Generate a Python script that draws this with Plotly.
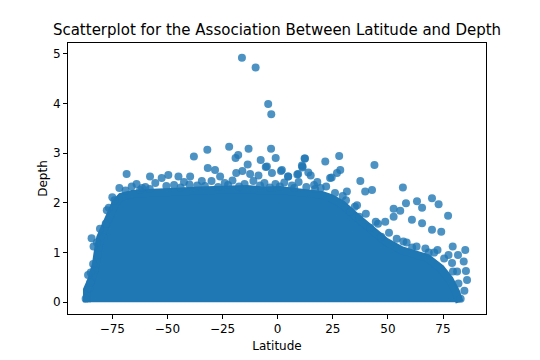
import plotly.graph_objects as go

# Dense core of the cloud: outline (latitude, depth)
blob_lat = [-86.5, -86.5, -84.5, -82.5, -81.5, -80.5, -78, -76, -73.5, -71, -66, -59, -52, -44, -36, -29, -22,
            -14, -7, 1, 8, 14, 20, 24, 29, 33.5, 38, 44, 49, 56, 62, 68, 74, 78, 81, 82.5, 82.5]
blob_depth = [0, 0.25, 0.45, 0.75, 1.05, 1.3, 1.55, 1.75, 2.0, 2.12, 2.18, 2.2, 2.2, 2.23, 2.25, 2.27, 2.25,
              2.28, 2.25, 2.26, 2.22, 2.2, 2.16, 2.1, 1.98, 1.8, 1.63, 1.43, 1.22, 1.05, 0.97, 0.89, 0.68,
              0.46, 0.2, 0.05, 0]

# Individual points visible around / above the dense core
pt_lat = [-16.2, -10.0, -4.3, -2.9, -38.0, -31.9, -22.0, -13.2, -3.0, -19.1, -17.9, -0.9, -7.7, -13.6, -5.4, 12.4,
          -68.5, -31.7, -28.4, 1.5, -2.6, -16.0, -57.9, -49.6, -45.0, -52.6, -39.7, -18.8, -12.5, -8.7, 4.8, 9.3,
          11.2, -75.0, -71.8, -4.9, -26.1, -34.4,
          12.2, 21.6, 27.9, 43.9, 28.4, 26.9, 23.8, 24.5, 37.5, 56.8, 31.4, 39.7, 42.8, 63.2, 70.0, 11.0, 11.3,
          1.9, 4.7, 8.9, 13.9, 15.0,
          58.2, 65.5, 73.0, 77.3, 52.6, 55.6, 60.9, 65.5, 48.8, 52.6, 70.0, 74.2,
          79.4, 85.1, 81.8, 77.5, 79.1, 84.4, 81.4, 85.4, 85.9, 84.7, 83.0,
          -84.4, -83.7, -85.5, -87.1, -80.6, -78.0, -76.6, -66.2, -62.4,
          -64.0, -60.0, -55.5, -47.0, -42.5, -36.5, -30.0, -24.0, -20.5, -15.0, -11.0, -6.0, -1.0, 3.0, 6.5, 9.5,
          16.5, 19.5,
          18.0, 22.0, 26.0, 31.0, 35.0, 40.0, 45.5, 50.5, 54.0, 58.5, 63.0, 67.0, 71.0, 75.5, 79.5, 82.0,
          -85.0, -83.0, -81.5, -79.0, -74.0,
          -69.0, -61.5, -58.0, -50.5, -44.0, -40.0, -33.0, -27.0, -22.5, -17.5, -8.0, -3.5, 1.0, 7.5, 13.0, 17.0,
          33.0, 37.0, 42.0, 47.0, 61.0, 68.5,
          -86.0, -84.8, -83.5, -82.0, -77.5, 29.5, 36.0, 44.5, 57.0, 72.5]
pt_depth = [4.92, 4.72, 3.99, 3.78, 2.93, 3.07, 3.13, 3.09, 3.09, 2.90, 2.96, 2.90, 2.86, 2.77, 2.72, 2.89,
            2.58, 2.70, 2.66, 2.64, 2.60, 2.64, 2.53, 2.56, 2.53, 2.50, 2.53, 2.60, 2.58, 2.55, 2.53, 2.58,
            2.71, 2.11, 2.30, 2.73, 2.53, 2.44,
            2.89, 2.83, 2.94, 2.76, 2.66, 2.60, 2.50, 2.51, 2.44, 2.31, 2.23, 2.23, 2.26, 2.03, 2.09, 2.75, 2.73,
            2.66, 2.53, 2.57, 2.61, 2.55,
            1.99, 1.90, 1.97, 1.74, 1.88, 1.84, 1.66, 1.59, 1.62, 1.72, 1.46, 1.42,
            1.12, 1.05, 0.95, 0.95, 0.79, 0.82, 0.62, 0.63, 0.45, 0.23, 0.07,
            1.29, 0.77, 0.28, 0.07, 1.48, 1.58, 1.90, 2.33, 2.26,
            2.38, 2.32, 2.40, 2.36, 2.42, 2.35, 2.44, 2.40, 2.45, 2.38, 2.44, 2.40, 2.38, 2.41, 2.35, 2.42,
            2.36, 2.30,
            2.42, 2.33, 2.20, 2.05, 1.92, 1.78, 1.58, 1.40, 1.28, 1.20, 1.12, 1.08, 1.00, 0.88, 0.62, 0.38,
            0.40, 0.65, 0.95, 1.30, 2.05,
            2.25, 2.30, 2.28, 2.34, 2.31, 2.37, 2.34, 2.32, 2.36, 2.33, 2.35, 2.31, 2.33, 2.30, 2.32, 2.28,
            1.82, 1.72, 1.50, 1.32, 1.10, 1.00,
            0.55, 0.60, 1.12, 1.20, 1.85, 2.14, 1.95, 1.62, 1.22, 1.05]

x_ticks = [-75, -50, -25, 0, 25, 50, 75]
x_tick_labels = ["−75", "−50", "−25", "0", "25", "50", "75"]
y_ticks = [0, 1, 2, 3, 4, 5]
y_tick_labels = ["0", "1", "2", "3", "4", "5"]

BLUE = "#1f77b4"
FONT = "DejaVu Sans"

fig = go.Figure()
fig.add_trace(go.Scatter(
    x=blob_lat, y=blob_depth, mode="lines", fill="toself",
    fillcolor=BLUE, line=dict(color=BLUE, width=8), hoverinfo="skip", showlegend=False,
))
fig.add_trace(go.Scatter(
    x=pt_lat, y=pt_depth, mode="markers",
    marker=dict(size=8, color="rgba(31,119,180,0.8)", line=dict(width=0)),
    showlegend=False,
))

axis_common = dict(
    showline=True, linecolor="black", linewidth=1, mirror=True,
    ticks="outside", ticklen=4, tickcolor="black", tickwidth=1,
    showgrid=False, zeroline=False, automargin=False,
    tickfont=dict(family=FONT, size=12, color="black"),
)

fig.update_layout(
    width=540, height=360,
    margin=dict(l=68, r=54, t=43, b=46),
    paper_bgcolor="white", plot_bgcolor="white",
    title=dict(text="Scatterplot for the Association Between Latitude and Depth",
               x=277 / 540, xref="container", xanchor="center",
               y=1 - 24 / 360, yref="container", yanchor="top",
               font=dict(family=FONT, size=15, color="black")),
    xaxis=dict(range=[-95.1, 94.5], tickvals=x_ticks, ticktext=x_tick_labels,
               title=dict(text="Latitude", font=dict(family=FONT, size=12, color="black"), standoff=6),
               **axis_common),
    yaxis=dict(range=[-0.236, 5.215], tickvals=y_ticks, ticktext=y_tick_labels,
               title=dict(text="Depth", font=dict(family=FONT, size=12, color="black"), standoff=2),
               **axis_common),
)

fig.write_html("out.html", config={"displayModeBar": False},
               post_script="document.body.style.margin='0';")
